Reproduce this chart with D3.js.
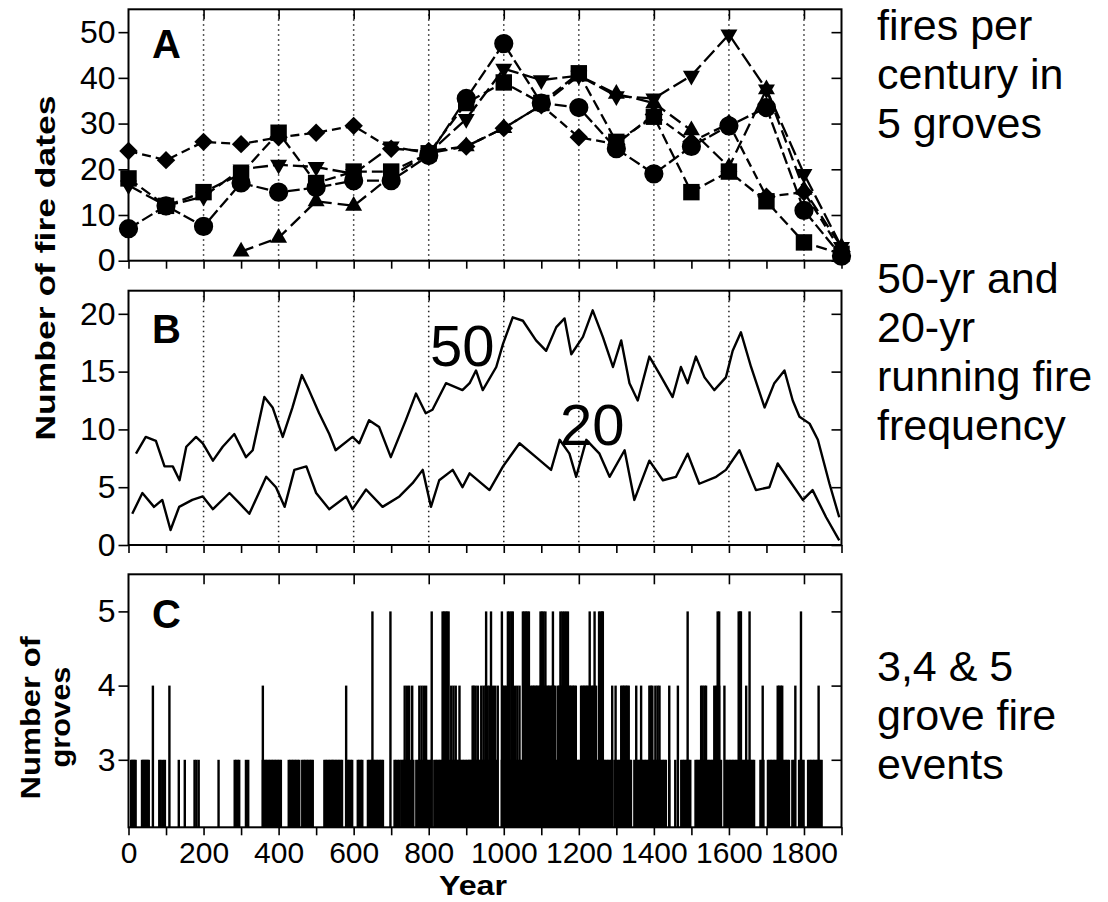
<!DOCTYPE html>
<html>
<head>
<meta charset="utf-8">
<script src="https://cdn.jsdelivr.net/npm/d3@7"></script>
<style>
body { margin: 0; background: #fff; }
svg { font-family: "Liberation Sans", Arial, sans-serif; }
</style>
</head>
<body>
<svg width="1108" height="902"></svg>
<script>
// ---- DATA ----

// panel A: fires per century in 5 groves
var centuryYears = [0, 100, 200, 300, 400, 500, 600, 700, 800, 900, 1000, 1100, 1200, 1300, 1400, 1500, 1600, 1700, 1800, 1900];
var groveCircle  = [7, 12, 7.5, 17, 15, 16, 17.5, 17.5, 23, 35.5, 47.5, 34.5, 33.5, 24.5, 19, 25, 29.5, 33.5, 11, 1];
var groveSquare  = [18, 12, 15, 19, 28, 17, 19.5, 19.5, 23.5, 34.5, 39, 34.5, 41, 26, 31.5, 15, 19.5, 13, 4, 1.5];
var groveDiamond = [24, 22, 26, 25.5, 27, 28, 29.5, 24.5, 24, 25, 29, 34, 27, 25.5, 32, 26, 30, 14, 15, 2];
var groveTriUp   = [null, null, null, 2, 5, 13, 12, 18.5, 23.5, 25, 29, 34, 40.5, 36.5, 34.5, 28.5, 20.5, 37.5, 15.5, 3];
var groveTriDown = [16.5, 12, 14, 20, 21, 20.5, 19, 25, 23.5, 31, 42, 39.5, 40.5, 36, 35.5, 40.5, 49.5, 37.5, 19, 3];

// panel B: running fire frequency [year, fires]
var run50 = [[20,7.9],[46,9.35],[73,9.0],[96,6.8],[118,6.8],[136,5.6],[154,8.5],[180,9.35],[198,8.8],[225,7.3],
  [251,8.5],[282,9.6],[313,7.6],[331,8.2],[362,12.8],[384,11.9],[411,9.35],[437,11.9],[462,14.7],[481,13.4],
  [508,11.4],[535,9.6],[552,8.2],[597,9.35],[615,8.8],[641,10.8],[668,10.2],[699,7.6],[739,10.8],[766,13.1],
  [792,11.4],[810,11.7],[846,14.0],[890,13.4],[909,14.0],[926,15.1],[944,13.4],[980,15.4],[998,17.4],[1024,19.7],
  [1051,19.4],[1086,17.7],[1113,16.8],[1140,18.85],[1162,19.6],[1180,16.5],[1211,18.0],[1237,20.3],[1264,18.0],
  [1291,15.4],[1313,17.7],[1335,14.0],[1357,12.5],[1388,16.3],[1415,14.8],[1450,12.8],[1472,15.4],[1490,14.0],
  [1512,16.3],[1535,14.5],[1561,13.4],[1592,14.5],[1610,16.8],[1632,18.4],[1659,15.4],[1695,11.9],[1721,14.0],
  [1748,15.1],[1770,12.5],[1788,11.1],[1815,10.5],[1837,9.1],[1868,5.3],[1894,2.4]];
var run20 = [[10,2.7],[37,4.5],[68,3.3],[90,3.9],[112,1.3],[135,3.3],[170,3.9],[198,4.2],[225,3.1],[269,4.5],
  [296,3.6],[322,2.7],[367,5.9],[393,5.0],[416,3.3],[442,6.5],[474,6.8],[500,4.5],[535,3.1],[580,4.2],[597,3.1],
  [633,4.8],[677,3.3],[722,4.2],[757,5.35],[784,6.5],[806,3.3],[828,5.6],[864,6.5],[890,5.0],[909,6.2],[962,4.75],
  [998,6.8],[1042,8.8],[1086,7.6],[1126,6.5],[1149,9.1],[1175,7.9],[1193,5.9],[1220,9.1],[1255,7.9],[1282,5.9],
  [1322,8.2],[1348,3.9],[1388,7.3],[1424,5.6],[1459,5.9],[1490,7.9],[1521,5.3],[1566,5.9],[1592,6.5],[1628,8.2],
  [1672,4.75],[1708,5.0],[1730,7.05],[1761,5.6],[1797,3.9],[1823,4.75],[1859,2.4],[1894,0.4]];

// panel C: years with fire in 3, 4 or 5 groves
var groves3Years = [7,10,13,16,19,36,39,42,45,48,51,54,82,86,92,97,134,150,176,181,187,240,283,287,291,295,313,319,
  358,362,366,370,374,378,382,386,390,394,398,402,406,427,431,435,439,443,447,451,455,463,467,471,475,479,483,487,491,
  522,526,530,534,538,542,545,549,553,557,561,565,569,580,584,588,592,596,611,615,619,623,
  638,642,646,650,654,658,662,666,670,674,678,709,713,718,722,
  727,731,735,739,743,747,751,755,759,767,771,775,779,783,787,791,795,799,803,807,815,819,823,827,831,835,839,843,
  847,851,855,859,863,867,871,875,879,883,887,891,895,899,903,907,
  909,913,917,921,925,929,933,937,941,945,949,953,957,961,965,969,973,977,981,995,999,1003,1007,1011,1015,1019,
  1023,1027,1031,1035,1039,1043,1047,1051,1055,1059,1063,1067,1071,1075,1079,1083,1087,1091,1095,1099,1103,1107,
  1111,1115,1119,1125,1129,1133,1137,1141,1145,1149,1153,1157,1161,1165,1169,1173,1177,1181,1185,1189,1193,1197,
  1201,1205,1209,1213,1217,1221,1225,1229,1233,1237,1241,1250,1254,1258,1262,1266,1270,1274,1278,1282,1286,
  1295,1299,1303,1307,1311,1315,1319,1323,1327,1331,1335,1339,1348,1352,1356,1360,1364,1368,1372,1376,1380,1384,
  1388,1392,1396,1400,1404,1408,1412,1416,1420,1424,1428,1432,1441,1457,1473,1477,1481,1485,1489,1493,1497,
  1511,1515,1519,1523,1527,1531,1535,1539,1543,1547,1551,1555,1559,1563,1567,1571,1575,1579,1591,1595,1599,1603,
  1607,1611,1615,1619,1623,1627,1631,1635,1639,1643,1647,1651,1655,1659,1663,1667,1684,1688,1692,1704,1708,1712,
  1716,1720,1724,1728,1732,1736,1740,1744,1748,1752,1756,1760,1769,1773,1787,1791,1795,1799,1811,1815,1819,1823,
  1827,1831,1835,1839,1843,1847];
var groves4Years = [65,109,358,580,736,742,748,756,775,781,787,793,860,866,872,882,917,920,925,931,940,946,951,957,962,
  971,977,984,998,1002,1006,1024,1030,1036,1042,1073,1077,1081,1085,1089,1093,1097,1101,1105,1109,1113,1117,1121,
  1125,1129,1133,1137,1144,1148,1152,1156,1160,1164,1168,1172,1176,1180,1184,1188,1192,1206,1210,1214,1218,1222,
  1226,1230,1234,1238,1242,1246,1289,1298,1313,1317,1321,1325,1329,1333,1353,1366,1388,1392,1396,1404,1410,1415,
  1441,1464,1526,1530,1535,1539,1561,1566,1570,1574,1588,1646,1690,1730,1734,1738,1742,1777,1839];
var groves5Years = [650,698,808,837,841,845,849,853,953,966,995,1011,1015,1020,1024,1051,1055,1059,1063,1067,1098,
  1102,1106,1111,1131,1151,1156,1161,1166,1171,1229,1242,1254,1258,1262,1264,1490,1570,1574,1626,1630,1632,1655,1792];

// tick values
var gridYears = [200, 400, 600, 800, 1000, 1200, 1400, 1600, 1800];
var centuryTicks = d3.range(0, 1901, 100);
var ticksA = [0, 10, 20, 30, 40, 50];
var ticksB = [0, 5, 10, 15, 20];
var ticksC = [3, 4, 5];

// ---- SCALES ----
var svg = d3.select("svg");
var x = d3.scaleLinear().domain([0, 1900]).range([128.5, 841.5]);
var yA = d3.scaleLinear().domain([0, 55]).range([260.7, 9.3]);
var yB = d3.scaleLinear().domain([0, 22]).range([545, 290.7]);
var yC = d3.scaleLinear().domain([2.09, 5.5]).range([827.3, 574.3]);

function gridlines(y) {
  svg.append("g").selectAll("line")
    .data(gridYears)
    .enter().append("line")
      .attr("x1", function(d) { return x(d); })
      .attr("x2", function(d) { return x(d); })
      .attr("y1", y.range()[1])
      .attr("y2", y.range()[0])
      .attr("stroke", "#222")
      .attr("stroke-width", 1.5)
      .attr("stroke-dasharray", "1.5,3.5");
}

function frame(y, yTicks, labelled) {
  var top = y.range()[1], bottom = y.range()[0];
  var gTop = svg.append("g").attr("transform", "translate(0," + top + ")")
    .call(d3.axisBottom(x).tickValues(gridYears).tickSize(10).tickFormat(""));
  var gBot = svg.append("g").attr("transform", "translate(0," + bottom + ")")
    .call(d3.axisBottom(x).tickValues(centuryTicks).tickSize(8).tickPadding(6)
      .tickFormat(function(d) { return labelled && d % 200 === 0 ? d : ""; }));
  var gLeft = svg.append("g").attr("transform", "translate(" + x(0) + ",0)")
    .call(d3.axisLeft(y).tickValues(yTicks).tickSize(10).tickPadding(3).tickFormat(d3.format("d")));
  var gRight = svg.append("g").attr("transform", "translate(" + x(1900) + ",0)")
    .call(d3.axisLeft(y).tickValues(yTicks).tickSize(10).tickFormat(""));
  [gTop, gBot, gLeft, gRight].forEach(function(g) {
    g.attr("font-family", null).attr("font-size", null);
    g.select(".domain").remove();
    g.selectAll("line").attr("stroke-width", 1.6);
    g.selectAll("text").attr("font-size", 32).attr("fill", "#000");
  });
  gBot.selectAll("text").attr("font-size", 30);
  svg.append("rect")
    .attr("x", x(0)).attr("y", top)
    .attr("width", x(1900) - x(0)).attr("height", bottom - top)
    .attr("fill", "none").attr("stroke", "#000").attr("stroke-width", 2);
}

function panelLetter(txt, xx, yy) {
  svg.append("text").attr("x", xx).attr("y", yy)
    .attr("font-size", 40).attr("font-weight", "bold").text(txt);
}

// ---- PANEL A ----
gridlines(yA);

var series = [
  {vals: groveDiamond, sym: d3.symbolSquare, size: 170, rot: 45, dash: "9,5"},
  {vals: groveSquare, sym: d3.symbolSquare, size: 270, rot: 0, dash: "11,5"},
  {vals: groveTriUp, sym: d3.symbolTriangle, size: 125, rot: 0, dash: "13,6"},
  {vals: groveTriDown, sym: d3.symbolTriangle, size: 125, rot: 180, dash: "15,5"},
  {vals: groveCircle, sym: d3.symbolCircle, size: 290, rot: 0, dash: "12,4"}
];

var lineA = d3.line()
  .defined(function(d) { return d[1] != null; })
  .x(function(d) { return x(d[0]); })
  .y(function(d) { return yA(d[1]); });

series.forEach(function(s) {
  var pts = centuryYears.map(function(yr, i) { return [yr, s.vals[i]]; });
  svg.append("path")
    .attr("d", lineA(pts))
    .attr("fill", "none").attr("stroke", "#000")
    .attr("stroke-width", 2.3).attr("stroke-dasharray", s.dash);
  svg.append("g").selectAll("path")
    .data(pts.filter(function(d) { return d[1] != null; }))
    .enter().append("path")
      .attr("d", d3.symbol().type(s.sym).size(s.size))
      .attr("transform", function(d) { return "translate(" + x(d[0]) + "," + yA(d[1]) + ") rotate(" + s.rot + ")"; })
      .attr("fill", "#000");
});

frame(yA, ticksA, false);
panelLetter("A", 152, 58);

// ---- PANEL B ----
gridlines(yB);

var lineB = d3.line()
  .x(function(d) { return x(d[0]); })
  .y(function(d) { return yB(d[1]); });

[run50, run20].forEach(function(run) {
  svg.append("path")
    .attr("d", lineB(run))
    .attr("fill", "none").attr("stroke", "#000")
    .attr("stroke-width", 2.4).attr("stroke-linejoin", "round");
});

frame(yB, ticksB, false);
panelLetter("B", 152, 343);

svg.append("text").attr("x", 430).attr("y", 366).attr("font-size", 58).text("50");
svg.append("text").attr("x", 560).attr("y", 445).attr("font-size", 58).text("20");

// ---- PANEL C ----
[[groves3Years, 3], [groves4Years, 4], [groves5Years, 5]].forEach(function(lv) {
  svg.append("g").selectAll("rect")
    .data(lv[0])
    .enter().append("rect")
      .attr("x", function(d) { return x(d) - 1.2; })
      .attr("width", 2.4)
      .attr("y", yC(lv[1]))
      .attr("height", yC(2.09) - yC(lv[1]))
      .attr("fill", "#000");
});

frame(yC, ticksC, true);
panelLetter("C", 152, 628);

// ---- AXIS TITLES ----
svg.append("text")
  .attr("transform", "translate(55,268) rotate(-90)")
  .attr("text-anchor", "middle").attr("font-size", 28).attr("font-weight", "bold")
  .attr("textLength", 345).attr("lengthAdjust", "spacingAndGlyphs")
  .text("Number of fire dates");
svg.append("text")
  .attr("transform", "translate(40,718) rotate(-90)")
  .attr("text-anchor", "middle").attr("font-size", 28).attr("font-weight", "bold")
  .attr("textLength", 163).attr("lengthAdjust", "spacingAndGlyphs")
  .text("Number of");
svg.append("text")
  .attr("transform", "translate(70,717) rotate(-90)")
  .attr("text-anchor", "middle").attr("font-size", 28).attr("font-weight", "bold")
  .attr("textLength", 101).attr("lengthAdjust", "spacingAndGlyphs")
  .text("groves");
svg.append("text")
  .attr("x", 473).attr("y", 895)
  .attr("text-anchor", "middle").attr("font-size", 27).attr("font-weight", "bold")
  .attr("textLength", 68).attr("lengthAdjust", "spacingAndGlyphs")
  .text("Year");

// ---- SIDE NOTES ----
var notes = [
  {lines: ["fires per", "century in", "5 groves"], y: 40},
  {lines: ["50-yr and", "20-yr", "running fire", "frequency"], y: 293},
  {lines: ["3,4 & 5", "grove fire", "events"], y: 681}
];
notes.forEach(function(n) {
  svg.append("g").selectAll("text")
    .data(n.lines)
    .enter().append("text")
      .attr("x", 877)
      .attr("y", function(d, i) { return n.y + i * 49; })
      .attr("font-size", 43)
      .text(function(d) { return d; });
});
</script>
</body>
</html>
